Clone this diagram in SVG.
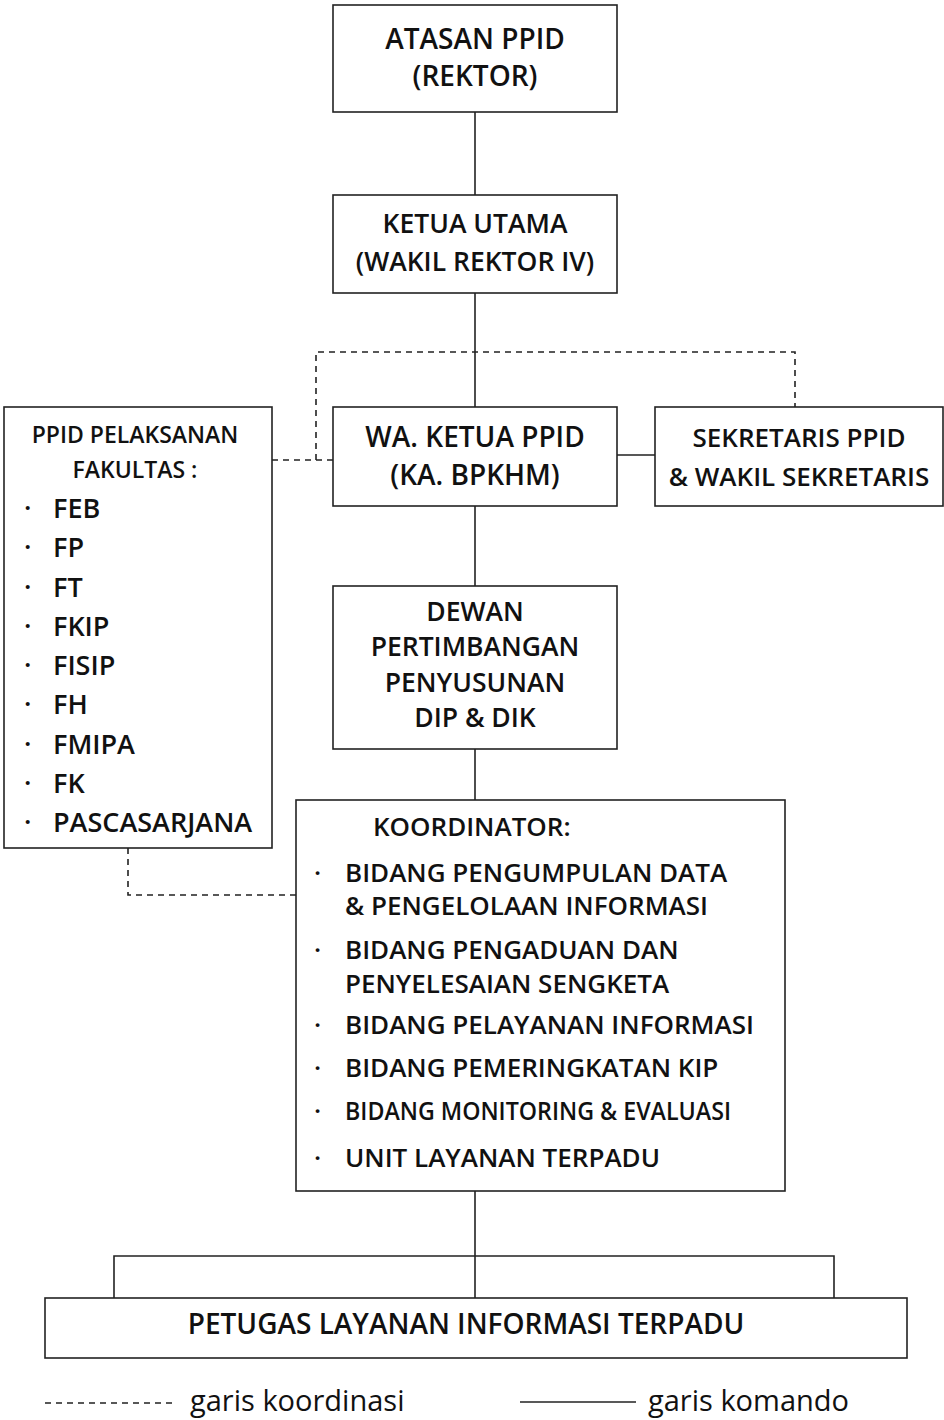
<svg xmlns="http://www.w3.org/2000/svg" width="944" height="1420" viewBox="0 0 944 1420">
<style>
.box{fill:#fff;stroke:#222;stroke-width:1.6}
.ln{fill:none;stroke:#222;stroke-width:1.6}
.ds{fill:none;stroke:#222;stroke-width:1.6;stroke-dasharray:6 5}
text{font-family:"Open Sans","Noto Sans",sans-serif;fill:#111;font-weight:600}
.t{font-size:28px;text-anchor:middle}
.t2{font-size:26.5px;text-anchor:middle}
.sk{font-size:26px;text-anchor:middle}
.s{font-size:23px;text-anchor:middle}
.d{font-size:26.5px;text-anchor:middle}
.l{font-size:27px}
.k{font-size:26px}
.lg{font-size:29px;font-weight:400}
</style>
<rect width="944" height="1420" fill="#fff"/>
<g id="connectors">
<path class="ln" d="M475 112V195M475 293V407M475 506V586M475 749V800M475 1191V1298M114 1298V1256H834V1298M617 455H655"/>
<path class="ds" d="M272 460H333M316 460V352H795V407M128 848V895H296"/>
</g>
<g id="atasan"><rect class="box" x="333" y="5" width="284" height="107"/>
<text class="t" x="475" y="49">ATASAN PPID</text><text class="t" x="475" y="86">(REKTOR)</text></g>
<g id="ketua"><rect class="box" x="333" y="195" width="284" height="98"/>
<text class="t2" x="475" y="233">KETUA UTAMA</text><text class="t2" x="475" y="271">(WAKIL REKTOR IV)</text></g>
<g id="waketua"><rect class="box" x="333" y="407" width="284" height="99"/>
<text class="t" x="475" y="447">WA. KETUA PPID</text><text class="t" x="475" y="485">(KA. BPKHM)</text></g>
<g id="sekretaris"><rect class="box" x="655" y="407" width="288" height="99"/>
<text class="sk" x="799" y="447">SEKRETARIS PPID</text><text class="sk" x="799" y="486">&amp; WAKIL SEKRETARIS</text></g>
<g id="pelaksana"><rect class="box" x="4" y="407" width="268" height="441"/>
<text class="s" x="135" y="443">PPID PELAKSANAN</text><text class="s" x="135" y="478">FAKULTAS :</text>
<g class="l">
<text x="24" y="518">·</text><text x="53" y="518">FEB</text>
<text x="24" y="557">·</text><text x="53" y="557">FP</text>
<text x="24" y="597">·</text><text x="53" y="597">FT</text>
<text x="24" y="636">·</text><text x="53" y="636">FKIP</text>
<text x="24" y="675">·</text><text x="53" y="675">FISIP</text>
<text x="24" y="714">·</text><text x="53" y="714">FH</text>
<text x="24" y="754">·</text><text x="53" y="754">FMIPA</text>
<text x="24" y="793">·</text><text x="53" y="793">FK</text>
<text x="24" y="832">·</text><text x="53" y="832">PASCASARJANA</text>
</g></g>
<g id="dewan"><rect class="box" x="333" y="586" width="284" height="163"/>
<text class="d" x="475" y="621">DEWAN</text><text class="d" x="475" y="656">PERTIMBANGAN</text>
<text class="d" x="475" y="692">PENYUSUNAN</text><text class="d" x="475" y="727">DIP &amp; DIK</text></g>
<g id="koordinator"><rect class="box" x="296" y="800" width="489" height="391"/>
<g class="k">
<text x="373" y="836">KOORDINATOR:</text>
<text x="314" y="882">·</text><text x="345" y="882">BIDANG PENGUMPULAN DATA</text>
<text x="345" y="915">&amp; PENGELOLAAN INFORMASI</text>
<text x="314" y="959">·</text><text x="345" y="959">BIDANG PENGADUAN DAN</text>
<text x="345" y="993">PENYELESAIAN SENGKETA</text>
<text x="314" y="1034">·</text><text x="345" y="1034">BIDANG PELAYANAN INFORMASI</text>
<text x="314" y="1077">·</text><text x="345" y="1077">BIDANG PEMERINGKATAN KIP</text>
<text x="314" y="1120">·</text><text x="345" y="1120" textLength="386" lengthAdjust="spacingAndGlyphs">BIDANG MONITORING &amp; EVALUASI</text>
<text x="314" y="1167">·</text><text x="345" y="1167">UNIT LAYANAN TERPADU</text>
</g></g>
<g id="petugas"><rect class="box" x="45" y="1298" width="862" height="60"/>
<text class="t" x="466" y="1334">PETUGAS LAYANAN INFORMASI TERPADU</text></g>
<g id="legend">
<path class="ds" d="M45 1403H176" stroke-dasharray="5 5" stroke-width="1.2"/>
<text class="lg" x="190" y="1411">garis koordinasi</text>
<path class="ln" d="M520 1402H636" stroke-width="2.4"/>
<text class="lg" x="648" y="1411">garis komando</text>
</g>
</svg>
